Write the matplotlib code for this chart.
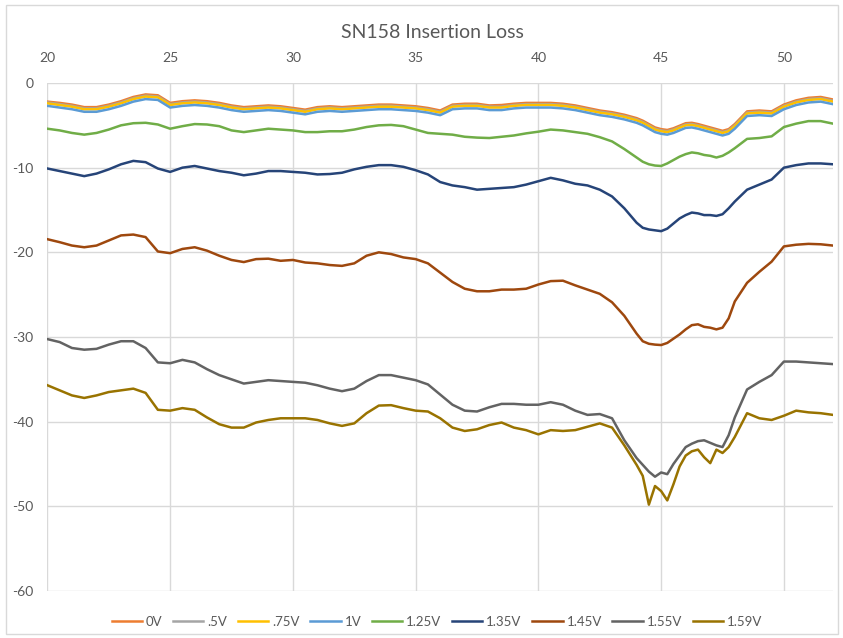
import matplotlib
matplotlib.use("Agg")
import matplotlib.pyplot as plt
import matplotlib.patches as patches

plt.rcParams['font.family'] = ['Lato', 'DejaVu Sans']
plt.rcParams['axes.unicode_minus'] = False

# Frecuencia (GHz) - eje x compartido
x = [20, 20.5, 21, 21.5, 22, 22.5, 23, 23.5, 24, 24.5,
     25, 25.5, 26, 26.5, 27, 27.5, 28, 28.5, 29, 29.5,
     30, 30.5, 31, 31.5, 32, 32.5, 33, 33.5, 34, 34.5,
     35, 35.5, 36, 36.5, 37, 37.5, 38, 38.5, 39, 39.5,
     40, 40.5, 41, 41.5, 42, 42.5, 43, 43.5,
     44, 44.25, 44.5, 44.75, 45, 45.25, 45.5, 45.75, 46, 46.25, 46.5, 46.75, 47, 47.25, 47.5, 47.75, 48,
     48.5, 49, 49.5, 50, 50.5, 51, 51.5, 52]

il_0v = [-2.2, -2.35, -2.55, -2.85, -2.85, -2.55, -2.15, -1.65, -1.35, -1.45,
         -2.35, -2.15, -2.05, -2.15, -2.35, -2.65, -2.85, -2.75, -2.65, -2.75,
         -2.95, -3.15, -2.85, -2.75, -2.85, -2.75, -2.65, -2.55, -2.55, -2.65,
         -2.75, -2.95, -3.25, -2.55, -2.45, -2.45, -2.65, -2.6, -2.45, -2.35,
         -2.35, -2.35, -2.45, -2.65, -2.95, -3.25, -3.45, -3.75,
         -4.15, -4.45, -4.85, -5.25, -5.45, -5.55, -5.35, -5.05, -4.75, -4.7, -4.85, -5.05, -5.25, -5.45, -5.65, -5.45, -4.85,
         -3.35, -3.25, -3.35, -2.55, -2.05, -1.75, -1.65, -1.95]

il_05v = [-2.3, -2.5, -2.7, -3.0, -3.0, -2.7, -2.3, -1.8, -1.5, -1.6,
          -2.5, -2.3, -2.2, -2.3, -2.5, -2.8, -3.0, -2.9, -2.8, -2.9,
          -3.1, -3.3, -3.0, -2.9, -3.0, -2.9, -2.8, -2.7, -2.7, -2.8,
          -2.9, -3.1, -3.4, -2.7, -2.6, -2.6, -2.8, -2.8, -2.6, -2.5,
          -2.5, -2.5, -2.6, -2.8, -3.1, -3.4, -3.6, -3.9,
          -4.3, -4.6, -5.0, -5.4, -5.6, -5.7, -5.5, -5.2, -4.9, -4.85, -5.0, -5.2, -5.4, -5.6, -5.8, -5.6, -5.0,
          -3.5, -3.4, -3.5, -2.7, -2.2, -1.9, -1.8, -2.1]

il_075v = [-2.4, -2.6, -2.8, -3.1, -3.1, -2.8, -2.4, -1.9, -1.6, -1.7,
           -2.6, -2.4, -2.3, -2.4, -2.6, -2.9, -3.1, -3.0, -2.9, -3.0,
           -3.2, -3.4, -3.1, -3.0, -3.1, -3.0, -2.9, -2.8, -2.8, -2.9,
           -3.0, -3.2, -3.5, -2.8, -2.7, -2.7, -2.9, -2.9, -2.7, -2.6,
           -2.6, -2.6, -2.7, -2.9, -3.2, -3.5, -3.7, -4.0,
           -4.4, -4.7, -5.1, -5.5, -5.7, -5.8, -5.6, -5.3, -5.0, -4.95, -5.1, -5.3, -5.5, -5.7, -5.9, -5.7, -5.1,
           -3.6, -3.5, -3.6, -2.8, -2.3, -2.0, -1.9, -2.2]

il_1v = [-2.7, -2.9, -3.1, -3.4, -3.4, -3.1, -2.7, -2.2, -1.9, -2.0,
         -2.9, -2.7, -2.6, -2.7, -2.9, -3.2, -3.4, -3.3, -3.2, -3.3,
         -3.5, -3.7, -3.4, -3.3, -3.4, -3.3, -3.2, -3.1, -3.1, -3.2,
         -3.3, -3.5, -3.8, -3.1, -3.0, -3.0, -3.2, -3.2, -3.0, -2.9,
         -2.9, -2.9, -3.0, -3.2, -3.5, -3.8, -4.0, -4.3,
         -4.7, -5.0, -5.4, -5.8, -6.0, -6.1, -5.9, -5.6, -5.3, -5.25, -5.4, -5.6, -5.8, -6.0, -6.2, -6.0, -5.4,
         -3.9, -3.8, -3.9, -3.1, -2.6, -2.3, -2.2, -2.5]

il_125v = [-5.4, -5.6, -5.9, -6.1, -5.9, -5.5, -5.0, -4.75, -4.7, -4.9,
           -5.4, -5.1, -4.85, -4.9, -5.1, -5.6, -5.8, -5.6, -5.4, -5.5,
           -5.6, -5.8, -5.8, -5.7, -5.7, -5.5, -5.2, -5.0, -4.95, -5.1,
           -5.5, -5.9, -6.0, -6.1, -6.35, -6.45, -6.5, -6.35, -6.2, -5.95,
           -5.75, -5.5, -5.6, -5.8, -6.0, -6.4, -6.9, -7.8,
           -8.8, -9.3, -9.6, -9.75, -9.8, -9.5, -9.1, -8.7, -8.4, -8.2, -8.3, -8.5, -8.6, -8.8, -8.6, -8.2, -7.7,
           -6.6, -6.5, -6.3, -5.2, -4.8, -4.5, -4.5, -4.8]

il_135v = [-10.1, -10.4, -10.7, -11.0, -10.7, -10.2, -9.6, -9.2, -9.35, -10.1,
           -10.5, -10.0, -9.8, -10.1, -10.4, -10.6, -10.9, -10.7, -10.4, -10.4,
           -10.5, -10.6, -10.8, -10.75, -10.6, -10.2, -9.9, -9.7, -9.7, -9.9,
           -10.3, -10.8, -11.7, -12.1, -12.3, -12.6, -12.5, -12.4, -12.3, -12.0,
           -11.6, -11.2, -11.5, -11.9, -12.1, -12.6, -13.4, -14.8,
           -16.5, -17.1, -17.3, -17.4, -17.5, -17.2, -16.6, -16.0, -15.6, -15.3, -15.4, -15.6, -15.6, -15.7, -15.5, -14.8, -14.0,
           -12.6, -12.0, -11.4, -10.0, -9.7, -9.5, -9.5, -9.6]

il_145v = [-18.45, -18.8, -19.2, -19.4, -19.2, -18.6, -18.0, -17.9, -18.2, -19.9,
           -20.1, -19.6, -19.4, -19.8, -20.4, -20.9, -21.15, -20.8, -20.75, -21.0,
           -20.9, -21.2, -21.3, -21.5, -21.6, -21.3, -20.4, -20.0, -20.2, -20.6,
           -20.8, -21.3, -22.4, -23.5, -24.3, -24.6, -24.6, -24.4, -24.4, -24.3,
           -23.8, -23.4, -23.35, -23.9, -24.4, -24.9, -25.9, -27.5,
           -29.6, -30.5, -30.8, -30.9, -30.95, -30.7, -30.2, -29.7, -29.1, -28.6, -28.5, -28.8, -28.9, -29.1, -28.9, -27.8, -25.8,
           -23.6, -22.3, -21.1, -19.3, -19.1, -19.0, -19.05, -19.2]

il_155v = [-30.25, -30.6, -31.3, -31.5, -31.4, -30.9, -30.5, -30.5, -31.3, -33.0,
           -33.1, -32.7, -33.0, -33.8, -34.5, -35.0, -35.5, -35.3, -35.1, -35.2,
           -35.3, -35.4, -35.7, -36.1, -36.4, -36.1, -35.2, -34.5, -34.5, -34.8,
           -35.1, -35.6, -36.8, -38.0, -38.7, -38.8, -38.3, -37.9, -37.9, -38.0,
           -38.0, -37.7, -38.0, -38.7, -39.2, -39.1, -39.6, -42.2,
           -44.3, -45.1, -45.9, -46.5, -46.0, -46.2, -45.0, -44.0, -43.0, -42.6, -42.3, -42.2, -42.5, -42.8, -43.0, -41.6, -39.5,
           -36.2, -35.3, -34.5, -32.9, -32.9, -33.0, -33.1, -33.2]

il_159v = [-35.7, -36.3, -36.9, -37.2, -36.9, -36.5, -36.3, -36.1, -36.6, -38.6,
           -38.7, -38.4, -38.6, -39.5, -40.3, -40.7, -40.7, -40.1, -39.8, -39.6,
           -39.6, -39.6, -39.8, -40.2, -40.5, -40.2, -39.0, -38.1, -38.05, -38.4,
           -38.7, -38.8, -39.6, -40.7, -41.1, -40.9, -40.4, -40.1, -40.7, -41.0,
           -41.5, -41.0, -41.1, -41.0, -40.6, -40.2, -40.7, -42.8,
           -45.1, -46.4, -49.8, -47.6, -48.2, -49.3, -47.4, -45.3, -44.0, -43.5, -43.3, -44.2, -44.9, -43.3, -43.7, -43.0, -41.8,
           -39.0, -39.6, -39.8, -39.3, -38.7, -38.9, -39.0, -39.2]

etiquetas = ['0V', '.5V', '.75V', '1V', '1.25V', '1.35V', '1.45V', '1.55V', '1.59V']
series = [il_0v, il_05v, il_075v, il_1v, il_125v, il_135v, il_145v, il_155v, il_159v]
colores = ['#ED7D31', '#A5A5A5', '#FFC000', '#5B9BD5', '#70AD47',
           '#264478', '#9E480E', '#636363', '#997300']

fig = plt.figure(figsize=(8.43, 6.38), dpi=100)
ax = fig.add_axes([47.4 / 843, 1 - 591 / 638, (833 - 47.4) / 843, (591 - 83) / 638])

for vals, lab, col in zip(series, etiquetas, colores):
    ax.plot(x, vals, color=col, linewidth=1.8, label=lab)

# Ejes y rejilla
ax.set_xlim(20, 52)
ax.set_ylim(-60, 0)
ax.set_xticks(range(20, 51, 5))
ax.set_yticks(range(-60, 1, 10))
ax.xaxis.tick_top()
ax.grid(True, color='#D9D9D9', linewidth=1)
ax.set_axisbelow(True)
for s in ax.spines.values():
    s.set_visible(False)
ax.tick_params(length=0, labelcolor='#595959', labelsize=10)
ax.tick_params(axis='x', pad=14)
ax.tick_params(axis='y', pad=10)

fig.text(432 / 843, 1 - 33 / 638, 'SN158 Insertion Loss', ha='center', va='center',
         fontsize=14, color='#595959')

fig.legend(loc='center', bbox_to_anchor=(437 / 843, 1 - 622 / 638), ncol=9,
           frameon=False, fontsize=9.5, handlelength=2.3, columnspacing=0.8,
           handletextpad=0.3, labelcolor='#595959')

# Borde del área del gráfico
fig.patches.append(patches.Rectangle((6 / 843, 4 / 638), 832 / 843, 629 / 638,
                                     transform=fig.transFigure, fill=False,
                                     edgecolor='#D9D9D9', linewidth=1))

fig.savefig('out.png', dpi=100)
